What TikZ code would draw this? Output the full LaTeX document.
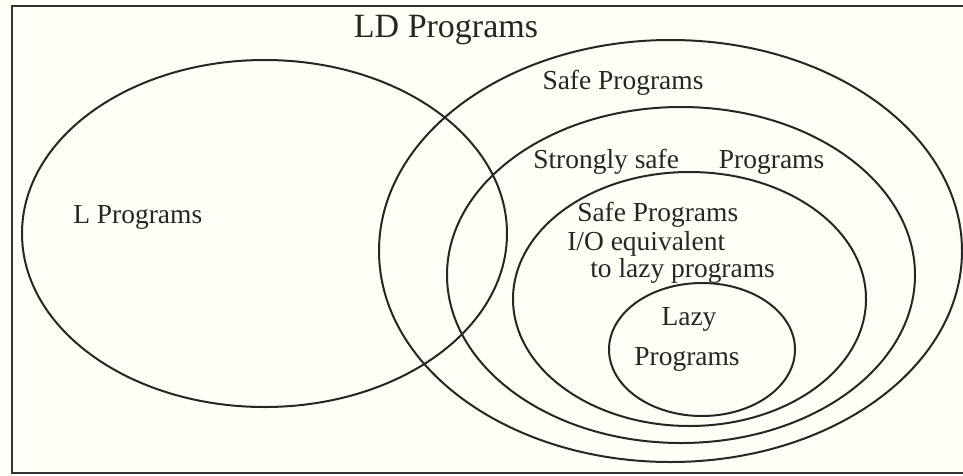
\documentclass[tikz,border=0pt]{standalone}
\usepackage{fontspec}
\setmainfont{Liberation Serif}
\begin{document}
\begin{tikzpicture}[x=0.75pt,y=-0.75pt,
  setline/.style={line width=1.5pt,draw=black!85},
  lbl/.style={inner sep=0pt,text=black!85,font=\fontsize{20.6pt}{24pt}\selectfont},
  title/.style={inner sep=0pt,text=black!85,font=\fontsize{25.5pt}{30pt}\selectfont}]
  % canvas
  \fill[white!97!yellow] (0,0) rectangle (963,475);
  \useasboundingbox (0,0) rectangle (963,475);
  \clip (0,0) rectangle (963,475);
  % universe frame
  \draw[line width=1.8pt,draw=black!80] (12,6) rectangle (990,473);
  % sets
  \draw[setline] (264.5,233.5) ellipse [x radius=242.5, y radius=173.5];
  \draw[setline] (670.5,251) ellipse [x radius=291.5, y radius=211];
  \draw[setline] (681,275) ellipse [x radius=234, y radius=168];
  \draw[setline] (689.5,299) ellipse [x radius=176.5, y radius=127];
  \draw[setline] (702,349.5) ellipse [x radius=93, y radius=66.5];
  % labels
  \node[title,anchor=base] (ld) at (446,37) {LD Programs};
  \node[lbl,anchor=base west] (lp) at (73,223) {L Programs};
  \node[lbl,anchor=base] (sp) at (623,89) {Safe Programs};
  \node[lbl,anchor=base west] (ssp) at (533,168) {Strongly safe\hspace{30pt}Programs};
  \node[lbl,anchor=base west] (io1) at (577,221) {Safe Programs};
  \node[lbl,anchor=base west] (io2) at (567,250) {I/O equivalent};
  \node[lbl,anchor=base west] (io3) at (590,277) {to lazy programs};
  \node[lbl,anchor=base] (lz1) at (689,325) {Lazy};
  \node[lbl,anchor=base] (lz2) at (687,365) {Programs};
\end{tikzpicture}
\end{document}
